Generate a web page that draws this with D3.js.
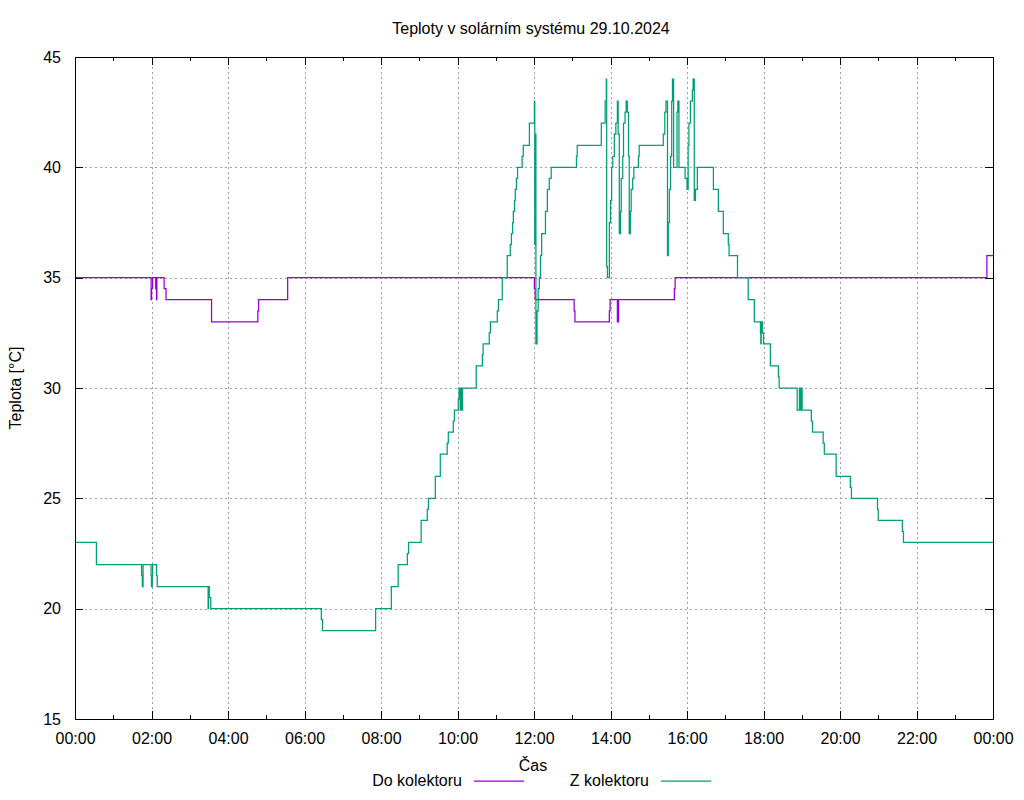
<!DOCTYPE html>
<html>
<head>
<meta charset="utf-8">
<script src="https://cdn.jsdelivr.net/npm/d3@7"></script>
<style>
body { margin: 0; background: #fff; }
text { font-family: "Liberation Sans", Arial, sans-serif; }
</style>
</head>
<body>
<div id="chart"></div>
<script>
// Constantes
const width = 1024
const height = 800
const margin = {
   top: 57,
   right: 31,
   bottom: 81,
   left: 75
}
const innerW = width - margin.left - margin.right
const innerH = height - margin.top - margin.bottom
const fontSize = "16px"

// Datos (hora del día, temperatura)
const doTimes = [0, 1.99, 2.00, 2.03, 2.11, 2.13, 2.14, 2.33, 2.38, 3.57, 4.78, 4.80, 5.56,
    12.01, 12.03, 13.05, 13.07, 13.97, 13.99, 14.18, 14.21, 15.67, 15.69, 23.84, 24]
const doValues = [35, 34, 34.5, 35, 34.5, 34, 35, 34.5, 34, 33, 33.5, 34, 35,
    34.5, 34, 33.5, 33, 33.5, 34, 33, 34, 34.5, 35, 36, 36]

const zTimes = [0, 0.56, 1.74, 1.76, 1.78, 1.99, 2.00, 2.02, 2.03, 2.13, 2.15, 3.48, 3.49, 3.51, 3.55,
    6.44, 6.47, 7.86, 8.27, 8.45, 8.69, 8.72, 9.05, 9.21, 9.24, 9.42, 9.55, 9.73, 9.76, 9.89, 9.92,
    10.02, 10.04, 10.07, 10.09, 10.11, 10.13, 10.49, 10.65, 10.67, 10.83, 10.86, 11.04, 11.07,
    11.17, 11.30, 11.38, 11.41, 11.44, 11.46, 11.49, 11.51, 11.54, 11.57, 11.69, 11.72, 11.88,
    12.01, 12.02, 12.03, 12.05, 12.08, 12.11, 12.14, 12.17, 12.20, 12.30, 12.35, 12.40, 12.45,
    13.11, 13.13, 13.76, 13.86, 13.89, 13.90, 13.92, 13.97, 14.00, 14.03, 14.06, 14.10, 14.14,
    14.18, 14.20, 14.23, 14.26, 14.28, 14.32, 14.34, 14.38, 14.41, 14.44, 14.47, 14.49, 14.52,
    14.54, 14.58, 14.61, 14.73, 14.75, 15.38, 15.42, 15.45, 15.49, 15.51, 15.54, 15.57, 15.60,
    15.62, 15.65, 15.74, 15.76, 15.79, 15.95, 16.00, 16.03, 16.05, 16.09, 16.14, 16.16, 16.19,
    16.22, 16.27, 16.69, 16.82, 16.95, 17.08, 17.10, 17.32, 17.60, 17.76, 17.92, 17.93, 17.94,
    17.97, 18.00, 18.18, 18.39, 18.41, 18.88, 18.94, 18.96, 18.99, 19.01, 19.25, 19.28, 19.56,
    19.59, 19.90, 20.27, 20.30, 20.98, 21.00, 21.63, 21.66, 24]
const zValues = [23, 22, 21.5, 21, 22, 21.5, 21, 21.5, 22, 21.5, 21, 20, 21, 20.5, 20,
    19.5, 19, 20, 21, 22, 22.5, 23, 24, 24.5, 25, 26, 27, 27.5, 28, 28.5, 29,
    29.5, 30, 29, 30, 29, 30, 31, 31.5, 32, 32.5, 33, 33.5, 34,
    35, 36, 36.5, 37, 37.5, 38, 38.5, 39, 39.5, 40, 40.5, 41, 42,
    43, 36.5, 41.5, 32, 33.5, 34.5, 35, 36, 37, 38, 39, 39.5, 40,
    40.5, 41, 42, 43, 44, 35.5, 35, 37.5, 38.5, 40, 40.5, 41.5, 42,
    43, 41.5, 37, 38, 39.5, 40.5, 42, 42.5, 43, 42.5, 40.5, 37, 38,
    39, 39.5, 40, 40.5, 41, 41.5, 42.5, 43, 36, 37.5, 39, 40.5, 43,
    44, 40, 42.5, 43, 40, 39.5, 39, 41, 42, 43, 43.5, 44, 38.5,
    39, 40, 39, 38, 37, 36.5, 36, 35, 34, 33, 32.5, 32, 33,
    32.5, 32, 31, 30.5, 30, 29, 30, 29, 30, 29, 28.5, 28, 27.5,
    27, 26, 25.5, 25, 24.5, 24, 23.5, 23, 23]

const seriesNames = ["Do kolektoru", "Z kolektoru"]
const seriesColors = ["#9400d3", "#009e73"]

const xMajor = [0, 2, 4, 6, 8, 10, 12, 14, 16, 18, 20, 22, 24]
const xMinor = [1, 3, 5, 7, 9, 11, 13, 15, 17, 19, 21, 23]
const xTickLabels = ["00:00", "02:00", "04:00", "06:00", "08:00", "10:00", "12:00",
    "14:00", "16:00", "18:00", "20:00", "22:00", "00:00"]
const yTicks = [15, 20, 25, 30, 35, 40, 45]

// svg
const svg = d3.select("div#chart")
   .append("svg")
   .attr("width", width)
   .attr("height", height)

svg.append("rect")
   .attr("width", width)
   .attr("height", height)
   .attr("fill", "#fff")

const elementGroup = svg.append("g")
    .attr("class", "elementGroup")
    .attr("transform", `translate(${margin.left}, ${margin.top})`)

// Escalas
const x = d3.scaleLinear().domain([0, 24]).range([0, innerW])
const y = d3.scaleLinear().domain([15, 45]).range([innerH, 0])

// Rejilla
const gridGroup = elementGroup.append("g").attr("class", "grid")
gridGroup.selectAll("line.vx")
    .data(xMajor.slice(1, -1))
    .enter().append("line")
    .attr("class", "vx")
    .attr("x1", d => Math.round(x(d)) + 0.5)
    .attr("x2", d => Math.round(x(d)) + 0.5)
    .attr("y1", 0)
    .attr("y2", innerH)
gridGroup.selectAll("line.hy")
    .data(yTicks.slice(1, -1))
    .enter().append("line")
    .attr("class", "hy")
    .attr("y1", d => Math.round(y(d)) + 0.5)
    .attr("y2", d => Math.round(y(d)) + 0.5)
    .attr("x1", 0)
    .attr("x2", innerW)
gridGroup.selectAll("line")
    .attr("stroke", "#a0a0a0")
    .attr("stroke-width", 1)
    .attr("stroke-dasharray", "2,3")

// Ejes
function styleAxis(g) {
    g.select(".domain").remove()
    g.selectAll(".tick line").attr("stroke", "#000").attr("shape-rendering", "crispEdges")
    g.selectAll("text")
        .attr("fill", "#000")
        .style("font-family", "'Liberation Sans', Arial, sans-serif")
        .style("font-size", fontSize)
}

const xAxis = d3.axisBottom(x).tickValues(xMajor)
    .tickFormat((d, i) => xTickLabels[i]).tickSizeInner(-8).tickSizeOuter(0)
const xAxisMinor = d3.axisBottom(x).tickValues(xMinor)
    .tickFormat("").tickSizeInner(-4).tickSizeOuter(0)
const xTop = d3.axisTop(x).tickValues(xMajor).tickFormat("").tickSizeInner(-8).tickSizeOuter(0)
const xTopMinor = d3.axisTop(x).tickValues(xMinor).tickFormat("").tickSizeInner(-4).tickSizeOuter(0)
const yAxis = d3.axisLeft(y).tickValues(yTicks).tickSizeInner(-8).tickSizeOuter(0).tickPadding(14)
const yRight = d3.axisRight(y).tickValues(yTicks).tickFormat("").tickSizeInner(-8).tickSizeOuter(0)

const axisGroup = elementGroup.append("g").attr("class", "axisGroup")
const xAxisGroup = axisGroup.append("g").attr("transform", `translate(0, ${innerH})`).call(xAxis).call(styleAxis)
xAxisGroup.selectAll("text").attr("y", 25).attr("dy", 0)
axisGroup.append("g").attr("transform", `translate(0, ${innerH})`).call(xAxisMinor).call(styleAxis)
axisGroup.append("g").call(xTop).call(styleAxis)
axisGroup.append("g").call(xTopMinor).call(styleAxis)
axisGroup.append("g").call(yAxis).call(styleAxis)
axisGroup.append("g").attr("transform", `translate(${innerW}, 0)`).call(yRight).call(styleAxis)

// Líneas
const line = d3.line()
    .x(d => x(d[0]))
    .y(d => y(d[1]))
    .curve(d3.curveStepAfter)

const series = [d3.zip(doTimes, doValues), d3.zip(zTimes, zValues)]
elementGroup.selectAll("path.serie")
    .data(series)
    .enter().append("path")
    .attr("class", "serie")
    .attr("d", line)
    .attr("fill", "none")
    .attr("stroke", (d, i) => seriesColors[i])
    .attr("stroke-width", 1.25)

// Marco
elementGroup.append("rect")
    .attr("x", 0)
    .attr("y", 0)
    .attr("width", innerW)
    .attr("height", innerH)
    .attr("fill", "none")
    .attr("stroke", "#000")
    .attr("stroke-width", 1)
    .attr("shape-rendering", "crispEdges")

// Textos
svg.append("text")
    .attr("x", 531)
    .attr("y", 34)
    .attr("text-anchor", "middle")
    .style("font-size", fontSize)
    .text("Teploty v solárním systému 29.10.2024")

svg.append("text")
    .attr("x", 533)
    .attr("y", 771)
    .attr("text-anchor", "middle")
    .style("font-size", fontSize)
    .text("Čas")

svg.append("text")
    .attr("transform", "translate(21, 388) rotate(-90)")
    .attr("text-anchor", "middle")
    .style("font-size", fontSize)
    .text("Teplota [°C]")

// Leyenda
const legendText = [462, 649]
const legend = svg.append("g").attr("class", "legend")
legend.selectAll("text")
    .data(seriesNames)
    .enter().append("text")
    .attr("x", (d, i) => legendText[i])
    .attr("y", 786)
    .attr("text-anchor", "end")
    .style("font-size", fontSize)
    .text(d => d)
legend.selectAll("line")
    .data(seriesColors)
    .enter().append("line")
    .attr("x1", (d, i) => legendText[i] + 12)
    .attr("x2", (d, i) => legendText[i] + 62)
    .attr("y1", 781)
    .attr("y2", 781)
    .attr("stroke", d => d)
    .attr("stroke-width", 1.25)
</script>
</body>
</html>
